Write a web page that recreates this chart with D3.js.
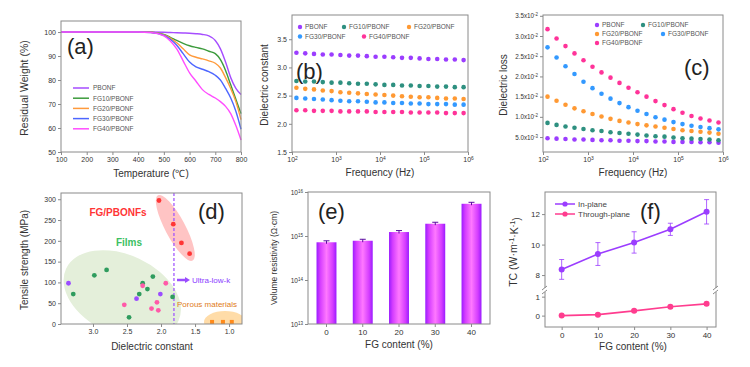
<!DOCTYPE html>
<html><head><meta charset="utf-8">
<script src="https://cdn.jsdelivr.net/npm/d3@7"></script>
<style>body{margin:0;background:#fff}svg{display:block}</style>
</head><body>
<svg id="c" width="750" height="367"></svg>
<script>
// ---------- DATA ----------
// (a) TGA
const tgaTemp = [100, 200, 300, 400, 450, 500, 525, 550, 575, 600, 625, 650, 675, 700, 720, 740, 760, 780, 800];
const wPBONF = [100, 100, 100, 100, 100, 99.9, 99.8, 99.7, 99.6, 99.5, 99.3, 99.0, 98.4, 96.5, 93.0, 87.5, 81.0, 76.5, 74.0];
const wFG10  = [100, 100, 100, 100, 99.9, 99.0, 97.8, 96.5, 95.3, 94.3, 93.6, 93.0, 92.0, 91.0, 88.5, 84.0, 78.0, 72.0, 66.0];
const wFG20  = [100, 100, 100, 100, 99.9, 98.8, 97.5, 95.5, 93.0, 90.5, 89.5, 88.8, 88.0, 87.0, 85.0, 81.0, 76.5, 71.0, 63.5];
const wFG30  = [100, 100, 100, 100, 99.8, 98.6, 97.0, 94.5, 91.0, 87.5, 85.5, 84.5, 83.5, 82.0, 80.0, 76.5, 72.5, 67.0, 59.5];
const wFG40  = [100, 100, 100, 100, 99.8, 98.4, 96.3, 93.0, 88.0, 83.0, 79.5, 76.0, 74.0, 72.5, 71.0, 69.0, 66.0, 61.0, 55.0];
const seriesNames = ["PBONF", "FG10/PBONF", "FG20/PBONF", "FG30/PBONF", "FG40/PBONF"];
const tgaTicksX = [100, 200, 300, 400, 500, 600, 700, 800];
const tgaTicksY = [50, 60, 70, 80, 90, 100];
// (b)/(c) frequency (Hz)
const freq = [126, 200, 316, 501, 794, 1259, 1995, 3162, 5012, 7943, 12589, 19953, 31623, 50119, 79433, 125893, 199526, 316228, 501187, 794328];
const freqTicks = [1e2, 1e3, 1e4, 1e5, 1e6];
const dkPBONF = [3.26,3.25,3.24,3.23,3.23,3.22,3.21,3.21,3.20,3.19,3.19,3.18,3.17,3.17,3.16,3.15,3.15,3.14,3.14,3.13];
const dkFG10  = [2.76,2.75,2.75,2.74,2.73,2.73,2.72,2.71,2.71,2.70,2.69,2.69,2.68,2.68,2.67,2.67,2.66,2.66,2.65,2.65];
const dkFG20  = [2.64,2.62,2.61,2.59,2.58,2.56,2.55,2.54,2.53,2.52,2.51,2.50,2.49,2.48,2.47,2.47,2.46,2.45,2.45,2.44];
const dkFG30  = [2.46,2.45,2.44,2.43,2.42,2.41,2.40,2.40,2.39,2.38,2.38,2.37,2.37,2.36,2.36,2.35,2.35,2.35,2.34,2.34];
const dkFG40  = [2.24,2.24,2.23,2.23,2.23,2.22,2.22,2.22,2.22,2.21,2.21,2.21,2.21,2.20,2.20,2.20,2.20,2.19,2.19,2.19];
const dkTicks = [1.5, 2.0, 2.5, 3.0, 3.5];
// dielectric loss, in units of 1e-2
const dlPBONF = [0.47,0.46,0.45,0.44,0.44,0.43,0.42,0.42,0.41,0.41,0.40,0.40,0.39,0.39,0.38,0.38,0.38,0.37,0.37,0.36];
const dlFG10  = [0.85,0.80,0.76,0.73,0.70,0.67,0.65,0.62,0.60,0.58,0.56,0.54,0.52,0.51,0.49,0.47,0.46,0.45,0.44,0.42];
const dlFG20  = [1.50,1.40,1.30,1.21,1.14,1.07,1.01,0.95,0.90,0.86,0.82,0.79,0.76,0.73,0.70,0.67,0.65,0.63,0.61,0.58];
const dlFG30  = [2.72,2.47,2.25,2.06,1.87,1.71,1.57,1.45,1.34,1.24,1.15,1.07,0.99,0.93,0.87,0.82,0.78,0.75,0.72,0.69];
const dlFG40  = [3.17,2.94,2.75,2.57,2.40,2.24,2.10,1.97,1.84,1.72,1.61,1.50,1.39,1.29,1.19,1.10,1.02,0.96,0.91,0.86];
const dlTicks = [0.5, 1.0, 1.5, 2.0, 2.5, 3.0, 3.5];
// (d) tensile strength vs dielectric constant
const filmsX = [3.29, 2.98, 2.80, 2.27, 2.32, 2.20, 2.12, 2.47, 1.83];
const filmsY = [72, 117, 130, 98, 72, 84, 114, 16, 65];
const pinkX = [2.54, 2.27, 1.93, 2.06, 2.14, 2.04];
const pinkY = [46, 92, 98, 52, 37, 33];
const violetX = [3.36, 2.36, 2.01];
const violetY = [98, 61, 72];
const fgX = [2.03, 1.82, 1.70, 1.58];
const fgY = [297, 240, 195, 169];
const porousX = [1.25, 1.09, 0.96];
const porousY = [5, 5, 5];
const ultraLowK = 1.81;
const dTicksX = [3.0, 2.5, 2.0, 1.5, 1.0];
const dTicksY = [0, 50, 100, 150, 200, 250, 300];
// (e) volume resistivity
const fgContent = ["0", "10", "20", "30", "40"];
const resistivity = [7.2e14, 7.8e14, 1.23e15, 1.9e15, 5.4e15];
const resTicks = [1e13, 1e14, 1e15, 1e16];
// (f) thermal conductivity
const tcX = [0, 10, 20, 30, 40];
const inPlane = [8.37, 9.38, 10.14, 11.0, 12.15];
const inErr = [0.65, 0.75, 0.7, 0.4, 0.8];
const throughPlane = [0.0, 0.05, 0.25, 0.47, 0.62];
const throughErr = [0.05, 0.05, 0.06, 0.07, 0.08];

// ---------- STYLE ----------
const FONT = '"Liberation Sans", Arial, sans-serif';
const GREY = '#8a8a8a';
const TXT = '#333';
const cA = ['#a64dff', '#3c9b3c', '#ff9a3c', '#4d66ff', '#ff4dff'];
const cB = ['#9b3dff', '#2e9080', '#ff9933', '#3399ff', '#ff3399'];

const svg = d3.select('#c').attr('font-family', FONT);

function frame(x0, y0, x1, y1) {
  svg.append('rect').attr('x', x0).attr('y', y0).attr('width', x1 - x0).attr('height', y1 - y0)
    .attr('fill', 'none').attr('stroke', GREY).attr('stroke-width', 1);
}
function styleAxis(g, fs) {
  g.select('.domain').remove();
  g.selectAll('.tick line').attr('stroke', GREY);
  g.selectAll('.tick text').attr('fill', TXT).attr('font-size', fs || 7).attr('font-family', FONT);
}
function label(x, y, txt, opts) {
  opts = opts || {};
  const t = svg.append('text').attr('x', x).attr('y', y).text(txt)
    .attr('font-size', opts.fs || 10).attr('fill', opts.fill || TXT)
    .attr('text-anchor', opts.anchor || 'middle');
  if (opts.rot) t.attr('transform', `rotate(${opts.rot},${x},${y})`);
  if (opts.bold) t.attr('font-weight', 'bold');
  return t;
}
function supTicks(g, baseFn, expFn) {
  g.selectAll('.tick text').each(function (d) {
    const t = d3.select(this); t.text(null);
    t.append('tspan').text(baseFn(d));
    t.append('tspan').attr('dy', '-0.45em').attr('font-size', '0.7em').text(expFn(d));
  });
}

// ---------- (a) ----------
{
  const x = d3.scaleLinear([100, 800], [61, 241]);
  const y = d3.scaleLinear([50, 104.6], [152, 21]);
  const gx = svg.append('g').attr('transform', 'translate(0,152)')
    .call(d3.axisBottom(x).tickValues(tgaTicksX).tickSize(3).tickSizeOuter(0).tickPadding(2));
  styleAxis(gx);
  const gy = svg.append('g').attr('transform', 'translate(61,0)')
    .call(d3.axisLeft(y).tickValues(tgaTicksY).tickSize(3).tickSizeOuter(0).tickPadding(2));
  styleAxis(gy);
  const all = [wPBONF, wFG10, wFG20, wFG30, wFG40];
  const line = d3.line().x((d, i) => x(tgaTemp[i])).y(d => y(d)).curve(d3.curveMonotoneX);
  all.forEach((s, k) => {
    svg.append('path').datum(s).attr('d', line).attr('fill', 'none').attr('stroke', cA[k]).attr('stroke-width', 1.4);
  });
  frame(61, 21, 241, 152);
  seriesNames.forEach((n, k) => {
    const yy = 88 + k * 10.2;
    svg.append('line').attr('x1', 73).attr('x2', 89).attr('y1', yy).attr('y2', yy).attr('stroke', cA[k]).attr('stroke-width', 1.5);
    label(93, yy + 2.3, n, {fs: 6.5, anchor: 'start', fill: '#555'});
  });
  label(67, 54, '(a)', {fs: 22, anchor: 'start', fill: '#222'});
  label(151, 177, 'Temperature (℃)', {fs: 10});
  label(28, 88, 'Residual Weight (%)', {fs: 10.5, rot: -90});
}

// ---------- (b) ----------
{
  const x = d3.scaleLog([100, 1e6], [292, 468]);
  const y = d3.scaleLinear([1.5, 3.93], [152, 15]);
  const gx = svg.append('g').attr('transform', 'translate(0,152)')
    .call(d3.axisBottom(x).tickValues(freqTicks).tickSize(3).tickSizeOuter(0).tickPadding(2));
  styleAxis(gx);
  supTicks(gx, () => '10', d => Math.round(Math.log10(d)));
  const gy = svg.append('g').attr('transform', 'translate(292,0)')
    .call(d3.axisLeft(y).tickValues(dkTicks).tickFormat(d3.format('.1f')).tickSize(3).tickSizeOuter(0).tickPadding(2));
  styleAxis(gy);
  [dkPBONF, dkFG10, dkFG20, dkFG30, dkFG40].forEach((s, k) => {
    svg.append('g').selectAll('circle').data(s).join('circle')
      .attr('cx', (d, i) => x(freq[i])).attr('cy', d => y(d)).attr('r', 2.3).attr('fill', cB[k]);
  });
  frame(292, 15, 468, 152);
  const lg = [[300, 27, 0], [344, 27, 1], [409, 27, 2], [300, 36.5, 3], [364, 36.5, 4]];
  lg.forEach(([lx, ly, k]) => {
    svg.append('circle').attr('cx', lx).attr('cy', ly).attr('r', 2.2).attr('fill', cB[k]);
    label(lx + 5, ly + 2.3, seriesNames[k], {fs: 6.5, anchor: 'start', fill: '#555'});
  });
  label(296, 79, '(b)', {fs: 22, anchor: 'start', fill: '#222'});
  label(380, 176, 'Frequency (Hz)', {fs: 10});
  label(268, 85, 'Dielectric constant', {fs: 10, rot: -90});
}

// ---------- (c) ----------
{
  const x = d3.scaleLog([100, 1e6], [543, 723]);
  const y = d3.scaleLinear([0.13, 3.52], [152, 15]);
  const gx = svg.append('g').attr('transform', 'translate(0,152)')
    .call(d3.axisBottom(x).tickValues(freqTicks).tickSize(3).tickSizeOuter(0).tickPadding(2));
  styleAxis(gx);
  supTicks(gx, () => '10', d => Math.round(Math.log10(d)));
  const gy = svg.append('g').attr('transform', 'translate(543,0)')
    .call(d3.axisLeft(y).tickValues(dlTicks).tickSize(3).tickSizeOuter(0).tickPadding(2));
  styleAxis(gy, 6.3);
  supTicks(gy, d => (d >= 1 ? d.toFixed(1) : (d * 10).toFixed(1)) + 'x10', d => d >= 1 ? '-2' : '-3');
  [dlPBONF, dlFG10, dlFG20, dlFG30, dlFG40].forEach((s, k) => {
    svg.append('g').selectAll('circle').data(s).join('circle')
      .attr('cx', (d, i) => x(freq[i])).attr('cy', d => y(d)).attr('r', 2.3).attr('fill', cB[k]);
  });
  frame(543, 15, 723, 152);
  const lg = [[597, 25, 0], [643, 25, 1], [597, 34, 2], [663, 34, 3], [597, 43, 4]];
  lg.forEach(([lx, ly, k]) => {
    svg.append('circle').attr('cx', lx).attr('cy', ly).attr('r', 2.2).attr('fill', cB[k]);
    label(lx + 5, ly + 2.3, seriesNames[k], {fs: 6.5, anchor: 'start', fill: '#555'});
  });
  label(684, 75, '(c)', {fs: 22, anchor: 'start', fill: '#222'});
  label(633, 176, 'Frequency (Hz)', {fs: 10});
  label(507, 85, 'Dielectric loss', {fs: 10, rot: -90});
}

// ---------- (d) ----------
{
  const x = d3.scaleLinear([3.47, 0.81], [61, 242]);
  const y = d3.scaleLinear([0, 315], [324, 193]);
  const defs = svg.append('defs');
  defs.append('clipPath').attr('id', 'clipd').append('rect').attr('x', 61).attr('y', 193).attr('width', 181).attr('height', 131);
  const gc = svg.append('g').attr('clip-path', 'url(#clipd)');
  function region(cx, cy, a, b, rot, fill) {
    gc.append('ellipse').attr('cx', x(cx)).attr('cy', y(cy)).attr('rx', a).attr('ry', b)
      .attr('transform', `rotate(${rot},${x(cx)},${y(cy)})`).attr('fill', fill);
  }
  region(2.57, 70, 62, 40, 25, '#e4efda');
  region(1.79, 231, 37, 10, 62, '#ffc4c4');
  region(1.06, 5, 21, 11, 0, '#ffdca8');
  gc.append('line').attr('x1', x(ultraLowK)).attr('x2', x(ultraLowK)).attr('y1', 193).attr('y2', 324)
    .attr('stroke', '#9b4dff').attr('stroke-width', 1.2).attr('stroke-dasharray', '3,2');
  const pts = (xs, ys, col, r) => gc.append('g').selectAll('circle').data(xs).join('circle')
    .attr('cx', d => x(d)).attr('cy', (d, i) => y(ys[i])).attr('r', r || 2.4).attr('fill', col);
  pts(filmsX, filmsY, '#2f9c5e');
  pts(pinkX, pinkY, '#ff5aa8');
  pts(violetX, violetY, '#9b4dff');
  pts(fgX, fgY, '#ff3535');
  gc.append('g').selectAll('rect').data(porousX).join('rect')
    .attr('x', d => x(d) - 2).attr('y', (d, i) => y(porousY[i]) - 2).attr('width', 4).attr('height', 4).attr('fill', '#ff8a1a');
  const gx = svg.append('g').attr('transform', 'translate(0,324)')
    .call(d3.axisBottom(x).tickValues(dTicksX).tickFormat(d3.format('.1f')).tickSize(3).tickSizeOuter(0).tickPadding(2));
  styleAxis(gx);
  const gy = svg.append('g').attr('transform', 'translate(61,0)')
    .call(d3.axisLeft(y).tickValues(dTicksY).tickSize(3).tickSizeOuter(0).tickPadding(2));
  styleAxis(gy);
  frame(61, 193, 242, 324);
  // annotations
  svg.append('line').attr('x1', 177).attr('x2', 186).attr('y1', 280).attr('y2', 280).attr('stroke', '#9b4dff').attr('stroke-width', 2.5);
  svg.append('path').attr('d', 'M185,277 L190,280 L185,283 Z').attr('fill', '#9b4dff');
  label(192, 283, 'Ultra-low-k', {fs: 8, anchor: 'start', fill: '#8a3dff'});
  label(177, 307, 'Porous materials', {fs: 8, anchor: 'start', fill: '#e07a20'});
  label(118, 216, 'FG/PBONFs', {fs: 10, bold: true, fill: '#ff3535'});
  label(129, 246, 'Films', {fs: 10, bold: true, fill: '#3cbf62'});
  label(198, 219, '(d)', {fs: 22, anchor: 'start', fill: '#222'});
  label(152, 350, 'Dielectric constant', {fs: 10});
  label(28, 260, 'Tensile strength (MPa)', {fs: 10, rot: -90});
}

// ---------- (e) ----------
{
  const x = d3.scaleBand(fgContent, [308, 490]).paddingInner(0.45).paddingOuter(0.235);
  const y = d3.scaleLog([1e13, 1e16], [324, 192]);
  const defs = svg.append('defs');
  const gr = defs.append('linearGradient').attr('id', 'barg').attr('x1', 0).attr('x2', 1).attr('y1', 0).attr('y2', 0);
  [[0, '#9a1cff'], [0.18, '#d43cff'], [0.5, '#ff78ff'], [0.82, '#d43cff'], [1, '#9a1cff']].forEach(([o, c]) =>
    gr.append('stop').attr('offset', o).attr('stop-color', c));
  svg.append('g').selectAll('rect').data(resistivity).join('rect')
    .attr('x', (d, i) => x(fgContent[i])).attr('width', x.bandwidth())
    .attr('y', d => y(d)).attr('height', d => 324 - y(d)).attr('fill', 'url(#barg)');
  svg.append('g').selectAll('path').data(resistivity).join('path')
    .attr('d', (d, i) => {
      const cx = x(fgContent[i]) + x.bandwidth() / 2, y1 = y(d * 1.08), y2 = y(d / 1.08);
      return `M${cx - 3},${y1}H${cx + 3}M${cx},${y1}V${y2}`;
    }).attr('stroke', '#5a0aa0').attr('stroke-width', 1).attr('fill', 'none');
  const gx = svg.append('g').attr('transform', 'translate(0,324)')
    .call(d3.axisBottom(x).tickSize(3).tickSizeOuter(0).tickPadding(2));
  styleAxis(gx, 8);
  const gy = svg.append('g').attr('transform', 'translate(308,0)')
    .call(d3.axisLeft(y).tickValues(resTicks).tickSize(3).tickSizeOuter(0).tickPadding(2));
  styleAxis(gy, 6.5);
  supTicks(gy, () => '10', d => Math.round(Math.log10(d)));
  frame(308, 192, 490, 324);
  label(318, 219, '(e)', {fs: 22, anchor: 'start', fill: '#222'});
  label(399, 348, 'FG content (%)', {fs: 10});
  label(277, 258, 'Volume resistivity (Ω·cm)', {fs: 8.5, rot: -90});
}

// ---------- (f) ----------
{
  const x = d3.scaleLinear([-4.6, 42.6], [545, 716]);
  const yU = d3.scaleLinear([7.02, 13.45], [290, 192]);
  const yL = d3.scaleLinear([-0.6, 1.35], [327, 290]);
  const cIn = '#9b3dff', cTh = '#ff3d8f';
  // error bars
  const eb = (ys, es, sc, col) => svg.append('g').selectAll('path').data(ys).join('path')
    .attr('d', (d, i) => {
      const cx = x(tcX[i]), a = sc(d + es[i]), b = sc(d - es[i]);
      return `M${cx - 2.5},${a}H${cx + 2.5}M${cx},${a}V${b}M${cx - 2.5},${b}H${cx + 2.5}`;
    }).attr('stroke', col).attr('stroke-width', 1).attr('fill', 'none').attr('opacity', 0.8);
  eb(inPlane, inErr, yU, cIn);
  eb(throughPlane, throughErr, yL, cTh);
  const lU = d3.line().x((d, i) => x(tcX[i])).y(d => yU(d));
  const lL = d3.line().x((d, i) => x(tcX[i])).y(d => yL(d));
  svg.append('path').datum(inPlane).attr('d', lU).attr('fill', 'none').attr('stroke', cIn).attr('stroke-width', 1.6);
  svg.append('path').datum(throughPlane).attr('d', lL).attr('fill', 'none').attr('stroke', cTh).attr('stroke-width', 1.6);
  svg.append('g').selectAll('circle').data(inPlane).join('circle')
    .attr('cx', (d, i) => x(tcX[i])).attr('cy', d => yU(d)).attr('r', 3).attr('fill', cIn);
  svg.append('g').selectAll('circle').data(throughPlane).join('circle')
    .attr('cx', (d, i) => x(tcX[i])).attr('cy', d => yL(d)).attr('r', 3).attr('fill', cTh);
  const gx = svg.append('g').attr('transform', 'translate(0,327)')
    .call(d3.axisBottom(x).tickValues(tcX).tickSize(3).tickSizeOuter(0).tickPadding(2));
  styleAxis(gx, 8);
  const gyU = svg.append('g').attr('transform', 'translate(545,0)')
    .call(d3.axisLeft(yU).tickValues([8, 10, 12]).tickFormat(d3.format('d')).tickSize(3).tickSizeOuter(0).tickPadding(2));
  styleAxis(gyU, 8);
  const gyL = svg.append('g').attr('transform', 'translate(545,0)')
    .call(d3.axisLeft(yL).tickValues([0, 1]).tickFormat(d3.format('d')).tickSize(3).tickSizeOuter(0).tickPadding(2));
  styleAxis(gyL, 8);
  frame(545, 192, 716, 327);
  // axis breaks
  [545, 716].forEach(bx => {
    svg.append('rect').attr('x', bx - 2).attr('y', 288).attr('width', 4).attr('height', 4).attr('fill', '#fff');
    svg.append('path').attr('d', `M${bx - 3},${290}l5,-4M${bx - 3},${294}l5,-4`).attr('stroke', GREY).attr('stroke-width', 1);
  });
  // legend
  [[204, cIn, 'In-plane'], [214, cTh, 'Through-plane']].forEach(([ly, c, t]) => {
    svg.append('line').attr('x1', 555).attr('x2', 575).attr('y1', ly).attr('y2', ly).attr('stroke', c).attr('stroke-width', 1.5);
    svg.append('circle').attr('cx', 565).attr('cy', ly).attr('r', 2.6).attr('fill', c);
    label(578, ly + 2.8, t, {fs: 8, anchor: 'start', fill: '#444'});
  });
  label(640, 219, '(f)', {fs: 22, anchor: 'start', fill: '#222'});
  label(633, 350, 'FG content (%)', {fs: 10});
  const yt = svg.append('text').attr('transform', 'translate(517,252) rotate(-90)').attr('text-anchor', 'middle')
    .attr('font-size', 10.5).attr('fill', TXT);
  yt.append('tspan').text('TC (W·m');
  yt.append('tspan').attr('dy', '-0.45em').attr('font-size', '0.7em').text('-1');
  yt.append('tspan').attr('dy', '0.45em').text('·K');
  yt.append('tspan').attr('dy', '-0.45em').attr('font-size', '0.7em').text('-1');
  yt.append('tspan').attr('dy', '0.45em').text(')');
}
</script>
</body></html>
